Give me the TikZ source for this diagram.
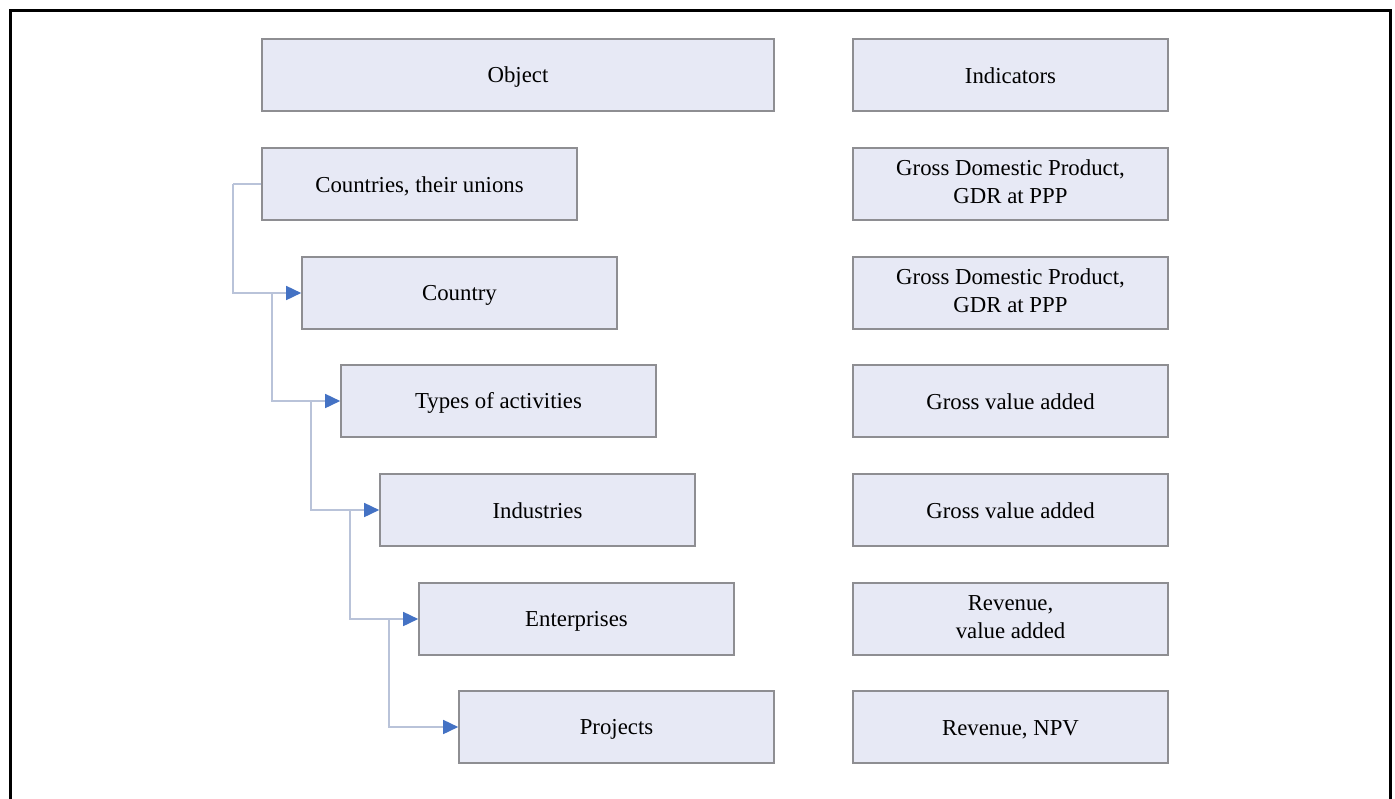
\documentclass[tikz,border=0pt]{standalone}
\usepackage{fontspec}
\setmainfont{Liberation Serif}
\usetikzlibrary{arrows.meta}
\definecolor{boxfill}{HTML}{E7E9F5}
\definecolor{boxdraw}{HTML}{8E8E92}
\definecolor{connline}{HTML}{B9C3D9}
\definecolor{arrowblue}{HTML}{4472C4}
\newcommand{\boxstrut}{\rule[-4pt]{0pt}{24pt}}
\tikzset{
  box/.style={draw=boxdraw, fill=boxfill, line width=1.6pt, rectangle,
    minimum width=315pt, minimum height=72pt, inner sep=0pt, align=center,
    font=\fontsize{22.8}{28}\selectfont,
    execute at begin node=\boxstrut, execute at end node=\boxstrut},
  conn/.style={draw=connline, line width=1.6pt,
    -{Triangle[length=15pt,width=14pt,color=arrowblue]}},
  plain/.style={draw=connline, line width=1.6pt},
  frame/.style={draw=black, line width=3pt}
}
\begin{document}
\begin{tikzpicture}[x=1pt,y=-1pt]
\useasboundingbox (0,0) rectangle (1395,798);
\draw[frame] (10,799) -- (10,10) -- (1390,10) -- (1390,799);
% header row
\node[box, minimum width=512pt] (obj) at (518,75) {Object};
\node[box] (ind) at (1010.5,75) {Indicators};
% left column
\node[box] (c1) at (419.5,184) {Countries, their unions};
\node[box] (c2) at (459.5,293) {Country};
\node[box] (c3) at (498.5,401) {Types of activities};
\node[box] (c4) at (537.5,510) {Industries};
\node[box] (c5) at (576.5,619) {Enterprises};
\node[box] (c6) at (616.5,727) {Projects};
% right column
\node[box] (r1) at (1010.5,184) {Gross Domestic Product,\\GDR at PPP};
\node[box] (r2) at (1010.5,293) {Gross Domestic Product,\\GDR at PPP};
\node[box] (r3) at (1010.5,401) {Gross value added};
\node[box] (r4) at (1010.5,510) {Gross value added};
\node[box] (r5) at (1010.5,619) {Revenue,\\value added};
\node[box] (r6) at (1010.5,727) {Revenue, NPV};
% connectors
\coordinate (j1) at (233,184);
\coordinate (j2) at (272,293);
\coordinate (j3) at (311,401);
\coordinate (j4) at (350,510);
\coordinate (j5) at (389,619);
\draw[plain] (c1.west) -- (j1);
\draw[conn] (j1) |- (c2.west);
\draw[conn] (j2) |- (c3.west);
\draw[conn] (j3) |- (c4.west);
\draw[conn] (j4) |- (c5.west);
\draw[conn] (j5) |- (c6.west);
\end{tikzpicture}
\end{document}
